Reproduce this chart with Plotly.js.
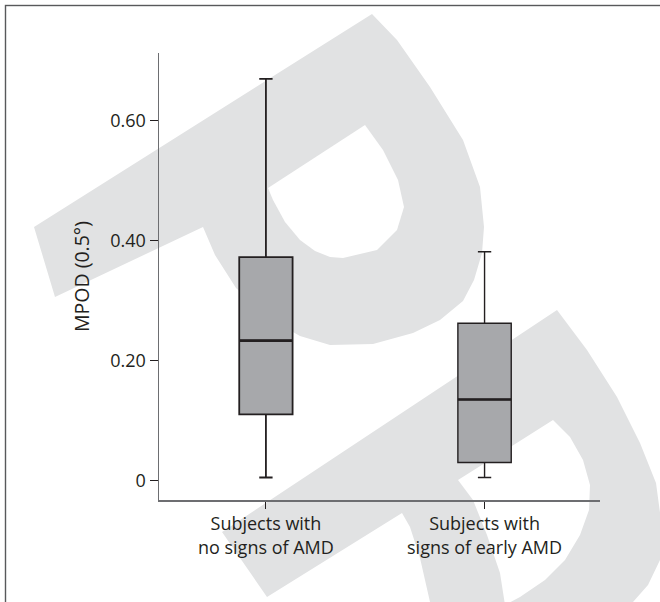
<!DOCTYPE html>
<html>
<head>
<meta charset="utf-8">
<script src="https://cdn.plot.ly/plotly-3.0.1.min.js"></script>
<style>
  html, body { margin: 0; padding: 0; background: #ffffff; }
  #wrap { position: relative; width: 660px; height: 602px; overflow: hidden; }
  #bg { position: absolute; left: 0; top: 0; }
  #chart { position: absolute; left: 0; top: 0; width: 660px; height: 602px; }
</style>
</head>
<body>
<div id="wrap">
  <svg id="bg" width="660" height="602" viewBox="0 0 660 602">
    <g fill="#e1e2e3" stroke="none">
      <polygon points="34,227 372,14 397,40 430,87 463,140 480,187 484,227 482,253 474,280 463,301 440,320 413,333 373,344 330,345 300,336 270,319 236,288 215,255 203,227 55,297"/>
      <polygon points="222,532 557,310 587,350 617,397 640,443 656,483 661,520 660,560 648,585 633,602 620,620 435,620 430,602 420,558 410,527 402,513 267,597"/>
    </g>
    <g fill="#ffffff" stroke="none">
      <polygon points="268,188 365,125 383,150 398,180 404,207 397,230 377,250 343,258 330,257 315,251 300,240 285,222 273,200"/>
      <polygon points="458,480 553,420 570,437 583,460 590,485 589,510 580,535 565,560 545,580 520,597 505,605 500,573 487,535 473,500"/>
    </g>
    <rect x="5.5" y="5.5" width="700" height="700" fill="none" stroke="#58595b" stroke-width="1.4"/>
  </svg>
  <div id="chart"></div>
</div>
<script>
// ---- data ----
const categories = ['Subjects with<br>no signs of AMD', 'Subjects with<br>signs of early AMD'];
const lowerWhisker = [0.005, 0.005];
const q1Values = [0.110, 0.030];
const medianValues = [0.233, 0.135];
const q3Values = [0.372, 0.262];
const upperWhisker = [0.669, 0.381];
const yTickValues = [0, 0.2, 0.4, 0.6];
const yTickLabels = ['0', '0.20', '0.40', '0.60'];
const yAxisTitle = 'MPOD (0.5°)';

const lineWidths = [1.8, 1.4];
const ink = '#231f20';
const boxWidth = 0.244;

const boxTraces = categories.map((cat, i) => ({
  type: 'box',
  x: [cat],
  q1: [q1Values[i]],
  median: [medianValues[i]],
  q3: [q3Values[i]],
  lowerfence: [lowerWhisker[i]],
  upperfence: [upperWhisker[i]],
  boxpoints: false,
  fillcolor: '#a7a8ab',
  line: { color: ink, width: lineWidths[i] },
  width: boxWidth,
  whiskerwidth: 0.25,
  showlegend: false,
  hoverinfo: 'skip'
}));

// heavier median bar drawn from the same median values
const medianTraces = categories.map((cat, i) => ({
  type: 'box',
  x: [cat],
  q1: [medianValues[i]],
  median: [medianValues[i]],
  q3: [medianValues[i]],
  lowerfence: [medianValues[i]],
  upperfence: [medianValues[i]],
  boxpoints: false,
  fillcolor: 'rgba(0,0,0,0)',
  line: { color: ink, width: 2.6 },
  width: boxWidth,
  whiskerwidth: 0,
  showlegend: false,
  hoverinfo: 'skip'
}));

const layout = {
  width: 660,
  height: 602,
  margin: { l: 159, r: 60, t: 53, b: 102, pad: 0 },
  paper_bgcolor: 'rgba(0,0,0,0)',
  plot_bgcolor: 'rgba(0,0,0,0)',
  boxmode: 'overlay',
  showlegend: false,
  font: { family: '"Open Sans", "Noto Sans", sans-serif', color: ink, size: 17 },
  xaxis: {
    type: 'category',
    categoryorder: 'array',
    categoryarray: categories,
    range: [-0.489, 1.528],
    showline: true,
    linecolor: '#6d6e71',
    linewidth: 1.5,
    ticks: 'outside',
    ticklen: 7,
    tickwidth: 1,
    tickcolor: ink,
    showgrid: false,
    zeroline: false,
    tickfont: { size: 18, color: ink },
    fixedrange: true
  },
  yaxis: {
    range: [-0.0325, 0.712],
    tickvals: yTickValues,
    ticktext: yTickLabels,
    showline: true,
    linecolor: '#6d6e71',
    linewidth: 1.5,
    ticks: 'outside',
    ticklen: 8,
    tickwidth: 1,
    tickcolor: ink,
    showgrid: false,
    zeroline: false,
    tickfont: { size: 18, color: ink },
    title: { text: yAxisTitle, font: { size: 19.5, color: ink }, standoff: 15 },
    fixedrange: true
  }
};

Plotly.newPlot('chart', boxTraces.concat(medianTraces), layout, { staticPlot: true, displayModeBar: false });
</script>
</body>
</html>
